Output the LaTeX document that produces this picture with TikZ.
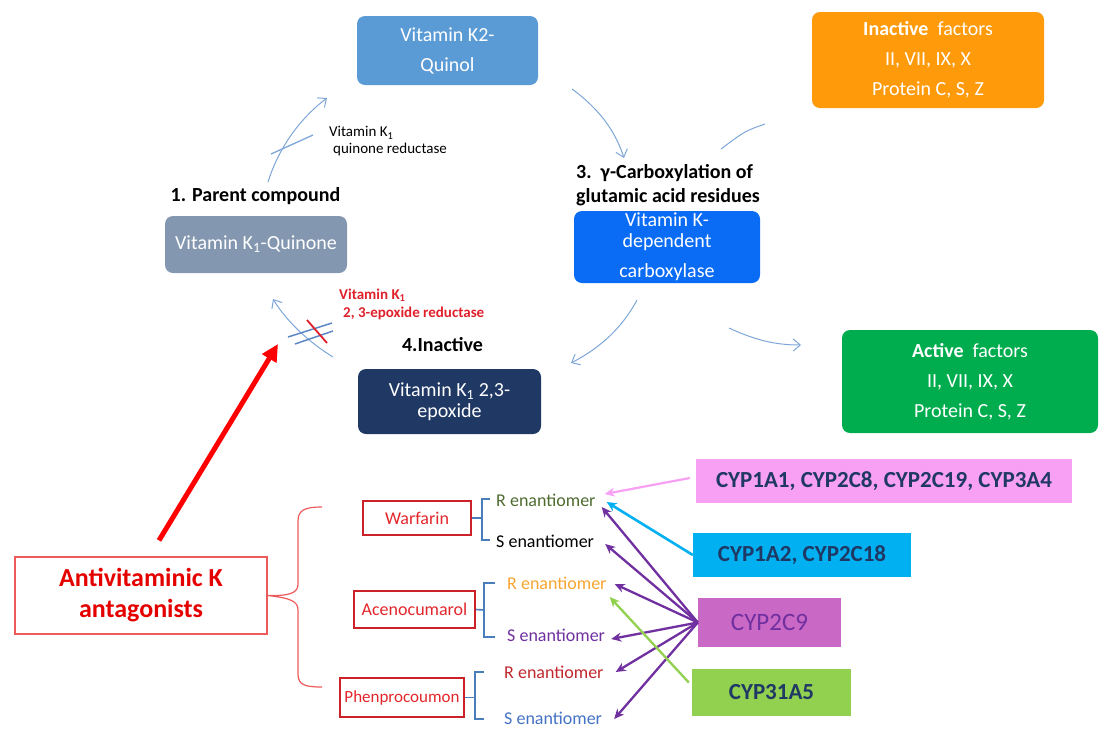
\documentclass[tikz,border=0pt]{standalone}
\usepackage{fontspec}
\setmainfont{Carlito}
\usetikzlibrary{arrows.meta,calc}
\definecolor{kqA}{HTML}{5B9BD5}
\definecolor{kqB}{HTML}{8497B0}
\definecolor{kdc}{HTML}{0A6CF5}
\definecolor{epx}{HTML}{1F3864}
\definecolor{orf}{HTML}{FF9A0A}
\definecolor{grf}{HTML}{00AD4E}
\definecolor{lblue}{HTML}{7EA6D8}
\definecolor{xblue}{HTML}{5B87C5}
\definecolor{xred}{HTML}{E0202A}
\definecolor{bred}{HTML}{E3262B}
\definecolor{lred}{HTML}{EE5A5A}
\definecolor{brk}{HTML}{4A7EBB}
\definecolor{cpink}{HTML}{F8A0F4}
\definecolor{ccyan}{HTML}{00B0F0}
\definecolor{corch}{HTML}{CA68C6}
\definecolor{cgreen}{HTML}{92D050}
\definecolor{navy}{HTML}{1F3864}
\definecolor{purp}{HTML}{7030A0}
\definecolor{olive}{HTML}{4E6B30}
\definecolor{orng}{HTML}{F6A531}
\definecolor{dred}{HTML}{C0282D}
\definecolor{sblue}{HTML}{4472C4}
\tikzset{
  cbox/.style={rounded corners=8pt, text=white, align=center, inner sep=0pt, font=\fontsize{20}{30}\selectfont},
  bold20/.style={font=\bfseries\fontsize{20}{24}\selectfont, inner sep=0pt},
  cyc/.style={draw=lblue, line width=1pt, -{Straight Barb[length=7pt,width=12pt]}},
  drug/.style={draw=bred!90!black, line width=2pt, text=bred, inner sep=0pt, font=\fontsize{18}{20}\selectfont},
  brkt/.style={draw=brk, line width=1.6pt},
  enan/.style={anchor=west, inner sep=0pt, font=\fontsize{18}{20}\selectfont},
  cyp/.style={inner sep=0pt, font=\bfseries\fontsize{23}{26}\selectfont, text=navy},
  parr/.style={draw=purp, line width=2.3pt, -{Stealth[length=10pt,width=9pt]}},
}
\begin{document}
\begin{tikzpicture}[x=1pt,y=-1pt]
\useasboundingbox (0,0) rectangle (1100,729);
% cycle boxes
\node[cbox, fill=kqA, minimum width=181pt, minimum height=69pt] (k2q) at (447.5,50.5) {Vitamin K2-\\Quinol};
\node[cbox, fill=kqB, minimum width=182pt, minimum height=57pt] (k1q) at (256,244.5) {Vitamin K\textsubscript{1}-Quinone};
\node[cbox, fill=kdc, minimum width=186pt, minimum height=72pt, font=\fontsize{20}{24}\selectfont] (vkdc) at (667,247) {Vitamin K-\\[-3pt]dependent\\[6pt]carboxylase};
\node[cbox, fill=epx, minimum width=183pt, minimum height=65pt, font=\fontsize{20}{21}\selectfont] (epox) at (449.5,401.5) {Vitamin K\textsubscript{1} 2,3-\\epoxide};
\node[cbox, fill=orf, minimum width=232pt, minimum height=96pt] (inact) at (928,60) {\textbf{Inactive}\ \ factors\\II, VII, IX, X\\Protein C, S, Z};
\node[cbox, fill=grf, minimum width=256pt, minimum height=103pt] (act) at (970,381.5) {\textbf{Active}\ \ factors\\II, VII, IX, X\\Protein C, S, Z};
% labels
\node[bold20] (lab1) at (255.5,196) {1. Parent compound};
\node[bold20, anchor=west, align=left] (lab3) at (576,185) {3.\ \ γ-Carboxylation of\\glutamic acid residues};
\node[bold20] (lab4) at (442.5,345) {4.Inactive};
\node[anchor=west, align=left, inner sep=0pt, font=\fontsize{15}{17}\selectfont] (qred) at (329,141.5) {Vitamin K\textsubscript{1}\\\hspace{4pt}quinone reductase};
\node[anchor=west, align=left, inner sep=0pt, text=xred, font=\bfseries\fontsize{15}{18}\selectfont] (ered) at (339,304) {Vitamin K\textsubscript{1}\\\hspace{4pt}2, 3-epoxide reductase};
% cycle arrows
\coordinate (a1s) at (268,182); \coordinate (a1e) at (327,98);
\draw[cyc] (a1s) .. controls (278,150) and (298,120) .. (a1e);
\coordinate (x1a) at (271,154); \coordinate (x1b) at (313,135);
\draw[draw=lblue, line width=1.3pt] (x1a) -- (x1b);
\coordinate (a2s) at (572,89); \coordinate (a2e) at (624,158);
\draw[cyc] (a2s) .. controls (598,108) and (615,130) .. (a2e);
\coordinate (a3s) at (637,300); \coordinate (a3e) at (571,363);
\draw[cyc] (a3s) .. controls (622,328) and (600,348) .. (a3e);
\coordinate (l4s) at (765,124); \coordinate (l4e) at (721,149);
\draw[draw=lblue, line width=1pt] (l4s) .. controls (745,131) .. (l4e);
\coordinate (a5s) at (729,328); \coordinate (a5e) at (801,345);
\draw[cyc] (a5s) .. controls (755,340) and (775,345) .. (a5e);
\coordinate (a6s) at (333,357); \coordinate (a6e) at (273,299);
\draw[cyc] (a6s) .. controls (310,343) and (287,322) .. (a6e);
\coordinate (b1a) at (288,337); \coordinate (b1b) at (332,323);
\coordinate (b2a) at (295,344); \coordinate (b2b) at (333,331);
\draw[draw=xblue, line width=1.5pt] (b1a) -- (b1b);
\draw[draw=xblue, line width=1.5pt] (b2a) -- (b2b);
\coordinate (r1a) at (307,320); \coordinate (r1b) at (327,343);
\draw[draw=xred, line width=1.8pt] (r1a) -- (r1b);
% antagonists
\node[draw=lred, line width=1.2pt, minimum width=252pt, minimum height=77pt, inner sep=0pt, align=center, text=red!90!black, font=\bfseries\fontsize{26}{31}\selectfont] (anti) at (141,595.5) {Antivitaminic K\\antagonists};
\coordinate (redtip) at (278,344);
\draw[draw=red, line width=5pt, -{Triangle[length=17pt,width=16pt]}] ($(anti.north)+(18,-16)$) -- (redtip);
\draw[draw=lred, line width=1.2pt] (322,507) .. controls (305,507) and (298,510) .. (298,521) -- (298,584) .. controls (298,593) and (290,596) .. (anti.east) .. controls (290,598) and (298,601) .. (298,610) -- (298,674) .. controls (298,685) and (305,687) .. (322,687);
\node[drug, minimum width=108pt, minimum height=34pt] (warf) at (417,518) {Warfarin};
\node[drug, minimum width=121pt, minimum height=37pt] (acen) at (414.5,609.5) {Acenocumarol};
\node[drug, minimum width=124pt, minimum height=39pt, font=\fontsize{17}{20}\selectfont] (phen) at (402,697.5) {Phenprocoumon};
% brackets
\draw[brkt] (warf.east) -- (482,518);
\draw[brkt] (490,499) -- (482,499) -- (482,540) -- (490,540);
\draw[brkt] (acen.east) -- (484,610);
\draw[brkt] (495,583) -- (484,583) -- (484,637) -- (495,637);
\draw[brkt] (phen.east) -- (475,697.5);
\draw[brkt] (484,672) -- (475,672) -- (475,719) -- (484,719);
% enantiomers
\node[enan, text=olive] (rw) at (496,500) {R enantiomer};
\node[enan, text=black] (sw) at (496,541) {S enantiomer};
\node[enan, text=orng] (ra) at (507,583) {R enantiomer};
\node[enan, text=purp] (sa) at (507,635) {S enantiomer};
\node[enan, text=dred] (rp) at (504,672) {R enantiomer};
\node[enan, text=sblue] (sp) at (504,718) {S enantiomer};
% CYP boxes
\node[cyp, fill=cpink, minimum width=376pt, minimum height=44pt] (c1) at (884,481) {CYP1A1, CYP2C8, CYP2C19, CYP3A4};
\node[cyp, fill=ccyan, minimum width=218pt, minimum height=44pt] (c2) at (802,555) {CYP1A2, CYP2C18};
\node[cyp, fill=corch, minimum width=143pt, minimum height=49pt, text=purp, font=\fontsize{25}{28}\selectfont] (c3) at (769.5,622.5) {CYP2C9};
\node[cyp, fill=cgreen, minimum width=159pt, minimum height=47pt] (c4) at (771.5,692.5) {CYP31A5};
% CYP arrows
\draw[draw=cpink, line width=2.2pt, -{Stealth[length=10pt,width=9pt]}] ($(c1.west)+(-6,-3)$) -- ($(rw.east)+(9,-6)$);
\draw[draw=ccyan, line width=2.6pt, -{Stealth[length=10pt,width=9pt]}] (c2.west) -- ($(rw.east)+(11,2)$);
\draw[parr] (c3.west) -- ($(rw.east)+(6,7)$);
\draw[parr] (c3.west) -- ($(sw.east)+(11,3)$);
\draw[parr] (c3.west) -- ($(ra.east)+(8,1)$);
\draw[parr] (c3.west) -- ($(sa.east)+(6,4)$);
\draw[parr] (c3.west) -- ($(rp.east)+(12,0)$);
\draw[parr] (c3.west) -- ($(sp.east)+(12,1)$);
\draw[draw=cgreen, line width=2.3pt, -{Stealth[length=10pt,width=9pt]}] ($(c4.west)+(-3,-10)$) -- ($(ra.east)+(3,14)$);
\end{tikzpicture}
\end{document}
